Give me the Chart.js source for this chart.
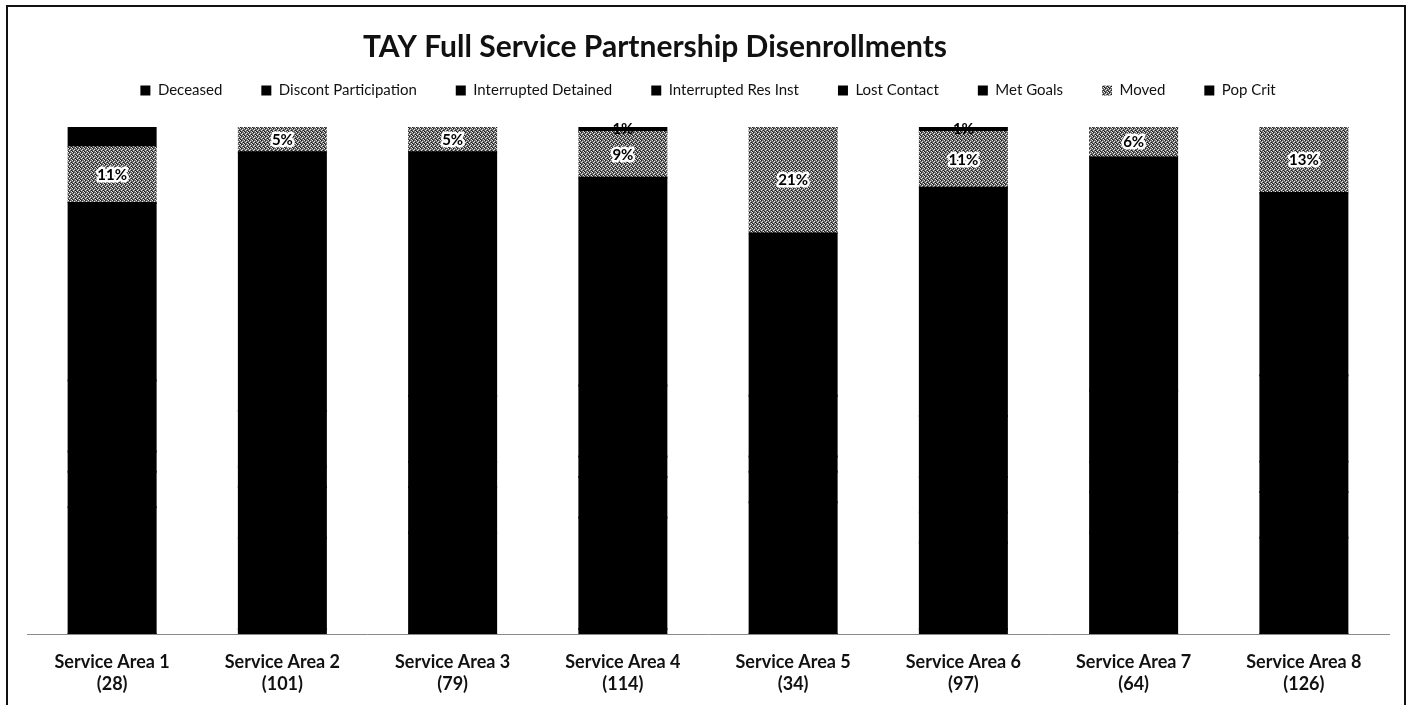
<!DOCTYPE html>
<html>
<head>
<meta charset="utf-8">
<script src="https://cdn.jsdelivr.net/npm/chart.js@4.4.0/dist/chart.umd.min.js"></script>
<style>
    html, body { margin: 0; padding: 0; background: #fff; }
    #frame {
        position: absolute; left: 6px; top: 5px;
        width: 1400px; height: 720px;
        border: 2px solid #111; box-sizing: border-box;
    }
    #wrap { position: absolute; left: 0; top: 0; width: 1416px; height: 705px; }
</style>
</head>
<body>
<div id="frame"></div>
<div id="wrap"><canvas id="disenrollChart"></canvas></div>
<script>
// share of each disenrollment reason per service area, in percent
const areas        = ['Service Area 1', 'Service Area 2', 'Service Area 3', 'Service Area 4',
                      'Service Area 5', 'Service Area 6', 'Service Area 7', 'Service Area 8'];
const clientCounts = [28, 101, 79, 114, 34, 97, 64, 126];

const deceased     = [0, 1, 0, 1, 0, 1, 0, 0];
const discont      = [25, 18, 20, 22, 26, 17, 20, 19];
const intDetained  = [7, 10, 9, 8, 6, 6, 8, 9];
const intResInst   = [4, 4, 5, 4, 3, 7, 6, 6];
const lostContact  = [14, 11, 13, 14, 12, 12, 14, 17];
const metGoals     = [35, 51, 48, 41, 32, 45, 46, 36];
const moved        = [11, 5, 5, 9, 21, 11, 6, 13];
const popCrit      = [4, 0, 0, 1, 0, 1, 0, 0];

const chartTitle = 'TAY Full Service Partnership Disenrollments';
const FONT = 'Lato, "Open Sans", sans-serif';

// small dithered tile for the grey "Moved" fill
function halftone() {
    const c = document.createElement('canvas');
    c.width = 4; c.height = 4;
    const g = c.getContext('2d');
    g.fillStyle = '#666666';
    g.fillRect(0, 0, 4, 4);
    g.fillStyle = '#e6e6e6';
    [[0, 0], [2, 1], [1, 2], [3, 3]].forEach(([x, y]) => g.fillRect(x, y, 1, 1));
    g.fillStyle = '#1a1a1a';
    [[1, 0], [3, 2], [0, 3]].forEach(([x, y]) => g.fillRect(x, y, 1, 1));
    return g.createPattern(c, 'repeat');
}

const movedFill = halftone();

// heading sits a little left of centre, so it is drawn here
const headline = {
    id: 'headline',
    afterDraw(chart) {
        const ctx = chart.ctx;
        ctx.save();
        ctx.font = `bold 30px ${FONT}`;
        ctx.fillStyle = '#111';
        ctx.textAlign = 'center';
        ctx.textBaseline = 'middle';
        ctx.fillText(chartTitle, 655, 47);
        ctx.restore();
    }
};

// values written on the segments
const segmentLabels = {
    id: 'segmentLabels',
    afterDatasetsDraw(chart) {
        const ctx = chart.ctx;
        ctx.save();
        ctx.font = `bold 15px ${FONT}`;
        ctx.textAlign = 'center';
        ctx.textBaseline = 'middle';
        ctx.lineJoin = 'round';
        chart.data.datasets.forEach((ds, i) => {
            if (!ds.showValue) return;
            chart.getDatasetMeta(i).data.forEach((bar, j) => {
                const v = ds.data[j];
                if (!v) return;
                const y = (bar.y + bar.base) / 2;
                const txt = v + '%';
                if (ds.halo) {
                    ctx.lineWidth = 5;
                    ctx.strokeStyle = '#fff';
                    ctx.strokeText(txt, bar.x, y);
                }
                ctx.fillStyle = '#000';
                ctx.fillText(txt, bar.x, y);
            });
        });
        ctx.restore();
    }
};

// extra room between the legend row and the bars
const legendGap = {
    id: 'legendGap',
    beforeInit(chart) {
        const fit = chart.legend.fit;
        chart.legend.fit = function () {
            fit.call(this);
            this.height += 19;
        };
    }
};

function series(label, data, fill, extra) {
    return Object.assign({
        label,
        data,
        backgroundColor: fill,
        borderWidth: 0,
        inflateAmount: 1,
        barPercentage: 0.511,
        categoryPercentage: 1.0,
    }, extra || {});
}

new Chart(document.getElementById('disenrollChart'), {
    type: 'bar',
    data: {
        labels: areas.map((a, i) => [a, `(${clientCounts[i]})`]),
        datasets: [
            series('Deceased', deceased, '#000'),
            series('Discont Participation', discont, '#000'),
            series('Interrupted Detained', intDetained, '#000'),
            series('Interrupted Res Inst', intResInst, '#000'),
            series('Lost Contact', lostContact, '#000'),
            series('Met Goals', metGoals, '#000'),
            series('Moved', moved, movedFill, { showValue: true, halo: true }),
            series('Pop Crit', popCrit, '#000', { showValue: true }),
        ],
    },
    options: {
        responsive: true,
        maintainAspectRatio: false,
        animation: false,
        layout: { padding: { left: 27, right: 27, top: 44, bottom: -7 } },
        plugins: {
            title: { display: false },
            legend: {
                position: 'top',
                labels: {
                    color: '#111',
                    font: { family: FONT, size: 15 },
                    boxWidth: 10,
                    boxHeight: 10,
                    padding: 39,
                },
            },
            tooltip: { enabled: false },
        },
        scales: {
            x: {
                stacked: true,
                grid: { display: false, drawTicks: false },
                border: { display: true, color: '#8a8a8a', width: 1 },
                ticks: {
                    color: '#111',
                    font: { family: FONT, size: 18, weight: 'bold', lineHeight: 1.22 },
                    padding: 17,
                    maxRotation: 0,
                },
            },
            y: {
                stacked: true,
                min: 0,
                max: 100,
                display: false,
            },
        },
    },
    plugins: [segmentLabels, legendGap, headline],
});
</script>
</body>
</html>
